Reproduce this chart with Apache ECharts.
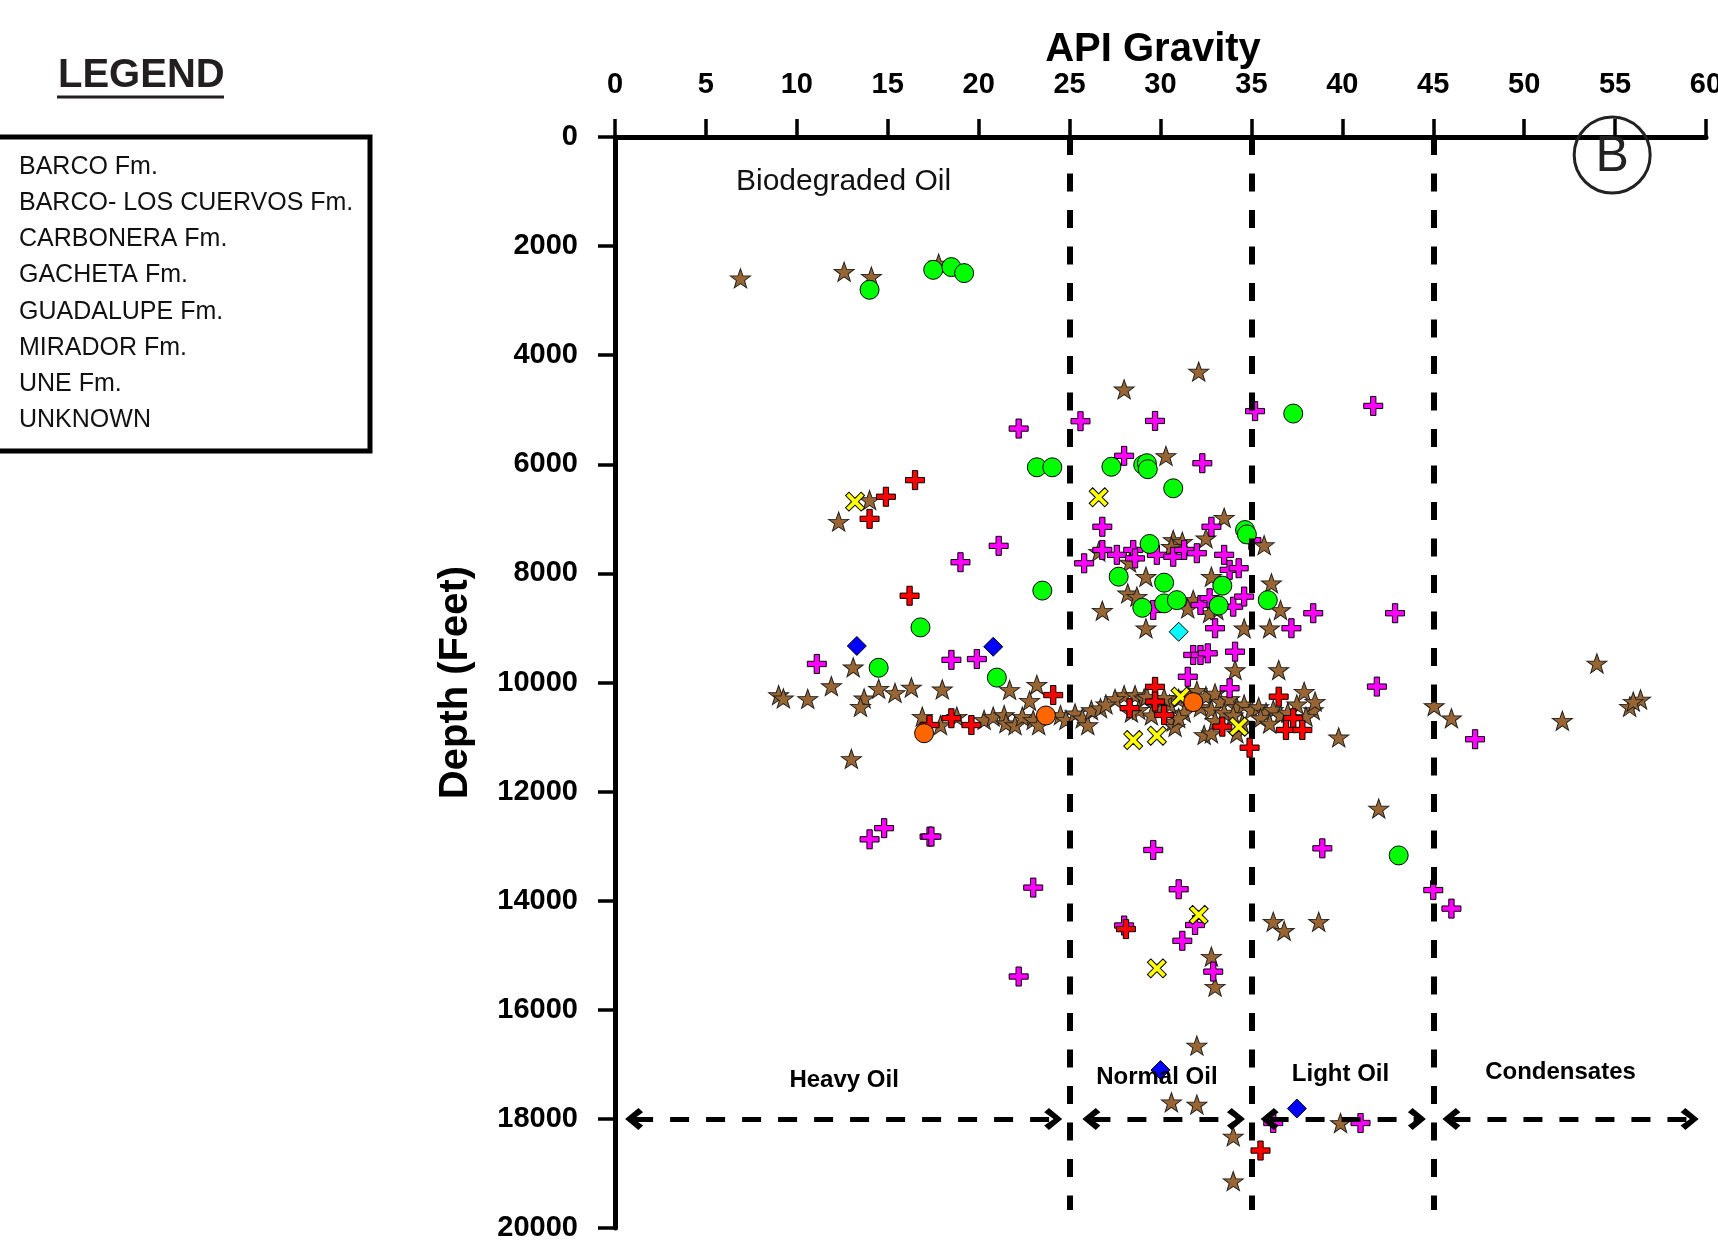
<!DOCTYPE html>
<html><head><meta charset="utf-8">
<script src="https://cdn.jsdelivr.net/npm/echarts@6/dist/echarts.min.js"></script>
<style>html,body{margin:0;padding:0;background:#fff;overflow:hidden}#c{width:1718px;height:1240px}</style>
</head><body><div id="c"></div>
<script>
// ---------- data (API gravity, depth in feet) ----------
const apiTicks = [0, 5, 10, 15, 20, 25, 30, 35, 40, 45, 50, 55, 60];
const depthTicks = [0, 2000, 4000, 6000, 8000, 10000, 12000, 14000, 16000, 18000, 20000];
const formationNames = ['BARCO Fm.', 'BARCO- LOS CUERVOS Fm.', 'CARBONERA Fm.', 'GACHETA Fm.', 'GUADALUPE Fm.', 'MIRADOR Fm.', 'UNE Fm.', 'UNKNOWN'];

const uneStars = [
  [6.9,2590],[12.6,2470],[14.1,2560],[17.8,2320],[28.0,4625],[32.1,4300],[30.3,5845],[14.0,6655],[12.3,7050],
  [33.5,6980],[32.5,7355],[35.7,7480],[30.7,7385],[31.2,7420],[30.6,7510],[36.1,8180],[29.2,8060],[28.2,8365],
  [28.7,8425],[31.8,8485],[32.8,8060],[36.6,8670],[26.8,8685],[29.2,9005],[34.6,9005],[36.0,9005],[34.1,9770],
  [36.5,9770],[33.1,8670],[26.6,7600],[28.3,7800],[31.5,8640],[32.7,8725],
  [9.0,10230],[9.26,10290],[10.6,10300],[11.9,10065],[13.1,9720],[13.7,10290],[13.5,10445],[14.5,10115],
  [15.4,10190],[16.3,10090],[18.0,10125],[21.7,10135],[23.2,10040],[22.8,10335],[16.9,10625],[13.0,11400],
  [17.9,10780],[18.8,10625],[20.3,10685],[20.8,10625],[21.4,10595],[21.5,10745],[22.0,10780],[22.4,10625],
  [23.0,10685],[23.3,10780],[24.5,10595],[24.8,10685],[25.3,10565],[25.7,10655],[26.0,10780],[26.2,10505],[26.7,10470],
  [28.0,10230],[28.6,10230],[29.1,10290],[29.25,10260],[30.7,10715],[30.8,10810],[32.4,10960],[32.8,10930],
  [34.2,10930],[37.9,10170],[38.4,10505],[38.0,10625],[39.8,11005],
  [31.0,10300],[31.5,10200],[32.0,10150],[32.5,10250],[33.0,10200],[33.3,10350],[33.8,10300],[34.2,10450],
  [34.6,10400],[35.0,10500],[35.4,10450],[35.8,10550],[36.2,10500],[36.6,10600],[37.0,10550],[32.2,10450],
  [32.8,10500],[33.5,10550],[34.0,10600],[31.3,10550],[30.5,10400],[29.8,10450],[29.5,10600],[28.8,10500],
  [27.5,10300],[27.0,10400],[28.4,10550],[30.2,10280],[31.0,10650],[33.0,10700],[35.5,10650],[34.5,10750],
  [36.0,10750],[37.5,10400],[38.5,10350],
  [45.05,10430],[46.0,10655],[52.1,10700],[54.0,9650],[55.8,10445],[56.4,10310],[56.0,10350],[42.0,12310],
  [36.2,14385],[36.8,14550],[38.7,14385],[32.8,15025],[33.0,15575],[32.0,16655],[30.6,17695],[32.0,17735],
  [34.0,18320],[34.0,19140],[39.9,18075]
];
const miradorPlus = [
  [22.2,5345],[25.6,5210],[29.7,5205],[35.2,5025],[41.7,4930],[28.0,5845],[32.3,5980],[26.8,7145],[32.8,7145],
  [21.1,7495],[19.0,7795],[25.8,7815],[26.8,7570],[27.6,7660],[28.5,7570],[28.6,7725],[29.8,7660],[30.7,7695],
  [31.3,7570],[32.0,7630],[33.5,7660],[33.8,7935],[34.3,7905],[35.0,7390],[29.6,8670],[32.2,8580],[32.7,8455],
  [34.0,8610],[34.6,8425],[33.0,9005],[37.2,9005],[31.8,9495],[32.2,9495],[32.6,9465],[34.1,9435],[31.5,9895],
  [33.8,10105],[11.1,9660],[18.5,9585],[19.9,9570],[38.4,8730],[42.9,8730],[41.9,10075],[47.3,11040],
  [14.0,12875],[14.8,12670],[17.3,12825],[17.4,12825],[23.0,13760],[22.2,15390],[29.6,13070],[31.0,13790],
  [28.0,14455],[31.9,14445],[31.2,14735],[32.9,15300],[38.9,13040],[45.0,13805],[46.0,14145],[36.2,18075],[41.0,18075]
];
const gachetaPlus = [
  [16.5,6290],[14.9,6595],[14.0,7000],[16.2,8410],[24.1,10230],[18.5,10655],[19.6,10780],[17.3,10780],
  [29.7,10080],[29.7,10350],[28.3,10470],[30.2,10595],[33.4,10810],[34.9,11195],[36.5,10260],[37.3,10655],
  [36.9,10870],[37.8,10870],[28.1,14520],[35.5,18580]
];
const guadalupeX = [
  [13.2,6685],[26.6,6605],[31.1,10260],[28.5,11055],[29.8,10975],[34.3,10810],[32.1,14260],[29.8,15240]
];
const carboneraCircles = [
  [14.0,2800],[17.5,2435],[18.5,2385],[19.2,2495],[23.2,6055],[24.05,6055],[27.3,6045],[29.05,6010],[29.25,5980],
  [29.3,6090],[30.7,6440],[37.3,5070],[29.4,7460],[34.65,7205],[34.75,7285],[27.7,8060],[30.2,8170],[33.4,8225],
  [29.0,8630],[30.2,8550],[30.9,8490],[33.2,8590],[35.9,8490],[23.5,8315],[16.8,8990],[14.5,9730],[21.0,9910],[43.1,13170]
];
const barcoDiamonds = [[13.3,9330],[20.8,9345],[30.0,17105],[37.5,17810]];
const cuervosDiamonds = [[31.0,9070]];
const unknownCircles = [[17.0,10930],[23.7,10605],[31.8,10360]];

// oil class limits and annotations
const classLimits = [25, 35, 45];
const arrowSegments = [[1.05, 24.1], [26.2, 34.15], [36.0, 44.1], [46.0, 59.1]];
const arrowDepth = 18000;
const classLabels = [['Heavy Oil', 12.6, 17290], ['Normal Oil', 29.8, 17240], ['Light Oil', 39.9, 17180], ['Condensates', 52.0, 17140]];

// ---------- chart ----------
const FONT = '"Liberation Sans", Arial, sans-serif';
const STAR = 'path://M50,0L61.76,33.82L97.55,34.55L69.02,56.18L79.39,90.45L50,70L20.61,90.45L30.98,56.18L2.45,34.55L38.24,33.82Z';
const PLUS = 'path://M36,0H64V36H100V64H64V100H36V64H0V36H36Z';
const XSYM = 'path://M39,0H61V39H100V61H61V100H39V61H0V39H39Z';
const CHEV = 'path://M50,0L100,74L80,100L50,48L20,100L0,74Z';

function sc(name, data, symbol, size, color, extra) {
  return Object.assign({
    type: 'scatter', name: name, data: data, symbol: symbol, symbolSize: size,
    itemStyle: { color: color, borderColor: '#000', borderWidth: 1, opacity: 1 },
    emphasis: { disabled: true }, animation: false
  }, extra || {});
}

const guideLines = classLimits.map(v => [{ coord: [v, 0] }, { coord: [v, 19670] }]);
const arrowLines = arrowSegments.map(s => [
  { coord: [s[0], arrowDepth], symbol: CHEV, symbolSize: [22, 18] },
  { coord: [s[1], arrowDepth], symbol: CHEV, symbolSize: [22, 18] }
]);
const textPoints = classLabels.map(c => ({
  coord: [c[1], c[2]], name: c[0], symbolSize: 0,
  label: { fontFamily: FONT, fontWeight: 'bold', fontSize: 24, color: '#000' }
}));
textPoints.push({ coord: [12.57, 823], name: 'Biodegraded Oil', symbolSize: 0,
  label: { fontFamily: FONT, fontWeight: 'normal', fontSize: 30, color: '#111' } });
textPoints.push({ coord: [54.84, 330], name: 'B', symbol: 'circle', symbolSize: 76,
  itemStyle: { color: 'rgba(255,255,255,0)', borderColor: '#222', borderWidth: 3 },
  label: { fontFamily: FONT, fontWeight: 'normal', fontSize: 50, color: '#222', offset: [0, 2] } });

const option = {
  backgroundColor: '#fff',
  animation: false,
  grid: { left: 615, top: 137, width: 1091, height: 1091, containLabel: false, outerBoundsMode: 'none' },
  xAxis: {
    type: 'value', position: 'top', min: apiTicks[0], max: apiTicks[apiTicks.length - 1], interval: apiTicks[1] - apiTicks[0],
    name: 'API Gravity', nameLocation: 'middle', nameGap: 67, nameMoveOverlap: false,
    nameTextStyle: { fontFamily: FONT, fontWeight: 'bold', fontSize: 40, color: '#000', padding: [0, 15, 0, 0] },
    axisLine: { show: true, onZero: false, lineStyle: { color: '#000', width: 5 } },
    axisTick: { show: true, inside: false, length: 18, lineStyle: { color: '#000', width: 3.5 } },
    axisLabel: { margin: 38, fontFamily: FONT, fontWeight: 'bold', fontSize: 29, color: '#000', formatter: v => String(v) },
    splitLine: { show: false }
  },
  yAxis: {
    type: 'value', inverse: true, min: depthTicks[0], max: depthTicks[depthTicks.length - 1], interval: depthTicks[1] - depthTicks[0],
    name: 'Depth (Feet)', nameLocation: 'middle', nameGap: 139, nameMoveOverlap: false,
    nameTextStyle: { fontFamily: FONT, fontWeight: 'bold', fontSize: 40, color: '#000' },
    axisLine: { show: true, onZero: false, lineStyle: { color: '#000', width: 5 } },
    axisTick: { show: true, inside: false, length: 17, lineStyle: { color: '#000', width: 3.5 } },
    axisLabel: { margin: 37, fontFamily: FONT, fontWeight: 'bold', fontSize: 29, color: '#000', formatter: v => String(v) },
    splitLine: { show: false }
  },
  legend: {
    data: formationNames, orient: 'vertical', left: 9, top: 149, icon: 'none', itemWidth: 0, itemHeight: 26, itemGap: 10.2,
    selectedMode: false, textStyle: { fontFamily: FONT, fontSize: 25, color: '#111', lineHeight: 26 }
  },
  graphic: [
    { type: 'rect', shape: { x: -10, y: 137, width: 380, height: 314 }, style: { fill: 'none', stroke: '#000', lineWidth: 5 }, silent: true },
    { type: 'text', x: 58, y: 76, style: { text: 'LEGEND', font: 'bold 40px "Liberation Sans"', fill: '#231f20', verticalAlign: 'middle' }, silent: true },
    { type: 'line', shape: { x1: 57, y1: 97, x2: 224, y2: 97 }, style: { stroke: '#231f20', lineWidth: 3 }, silent: true }
  ],
  series: [
    { type: 'scatter', name: '_guides', data: [], clip: false, silent: true, animation: false,
      markLine: { silent: true, animation: false, symbol: ['none', 'none'], label: { show: false },
        lineStyle: { color: '#000', width: 6, type: [18, 18.5] }, emphasis: { disabled: true }, data: guideLines } },
    { type: 'scatter', name: '_arrows', data: [], clip: false, silent: true, animation: false,
      markLine: { silent: true, animation: false, label: { show: false },
        lineStyle: { color: '#000', width: 5, type: [19, 17] }, itemStyle: { color: '#000' }, emphasis: { disabled: true }, data: arrowLines },
      markPoint: { silent: true, animation: false, label: { show: true, position: 'inside', formatter: '{b}' },
        itemStyle: { color: 'rgba(0,0,0,0)' }, data: textPoints } },
    sc(formationNames[6], uneStars, STAR, [20, 19], '#996633', { itemStyle: { color: '#996633', borderColor: '#222', borderWidth: 1, opacity: 1 } }),
    sc(formationNames[5], miradorPlus, PLUS, 19, '#ff00ff'),
    sc(formationNames[3], gachetaPlus, PLUS, 19, '#ff0000'),
    sc(formationNames[4], guadalupeX, XSYM, 22, '#ffff00', { symbolRotate: 45 }),
    sc(formationNames[2], carboneraCircles, 'circle', 19, '#00ff00'),
    sc(formationNames[0], barcoDiamonds, 'diamond', 19, '#0000ff'),
    sc(formationNames[1], cuervosDiamonds, 'diamond', 19, '#00ffff'),
    sc(formationNames[7], unknownCircles, 'circle', 19, '#ff6600')
  ]
};
const chart = echarts.init(document.getElementById('c'), null, { renderer: 'canvas' });
chart.setOption(option);
</script>
</body></html>
